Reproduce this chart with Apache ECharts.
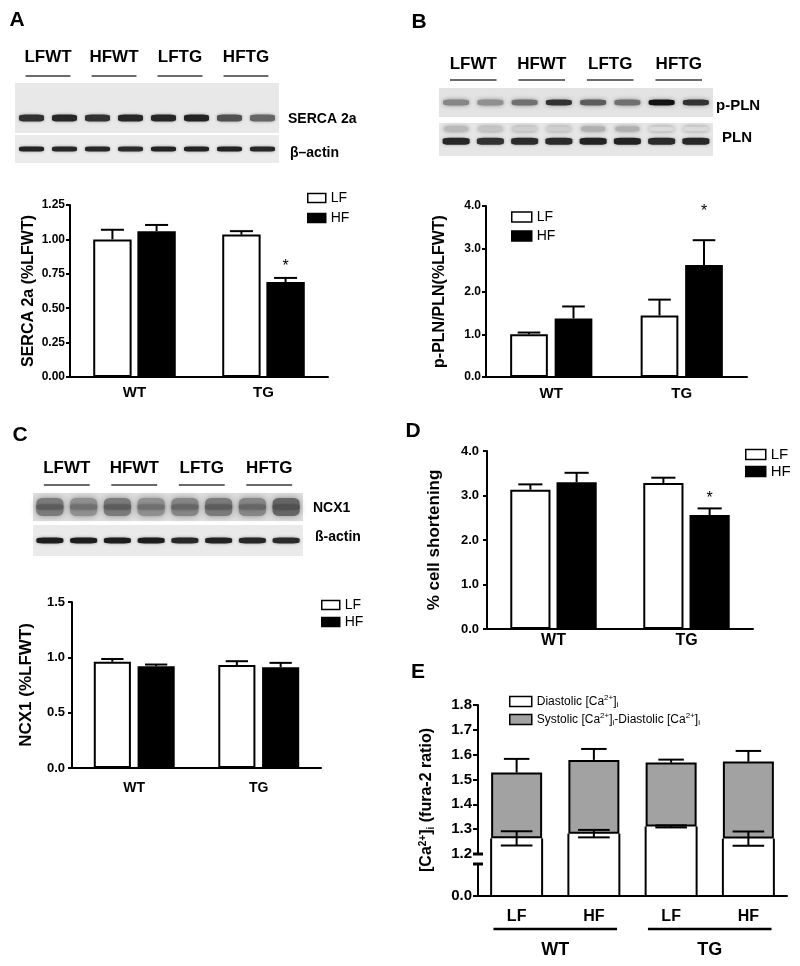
<!DOCTYPE html>
<html>
<head>
<meta charset="utf-8">
<script src="https://cdn.jsdelivr.net/npm/echarts@6.0.0/dist/echarts.min.js"></script>
<style>
html, body { margin: 0; padding: 0; background: #fff; }
#chart { width: 800px; height: 966px; }
</style>
</head>
<body>
<div id="chart"></div>
<script>
const FONT = '"Liberation Sans", Arial, Helvetica, sans-serif';

// categories
const groups = ['WT', 'TG'];
const laneGroups = ['LFWT', 'HFWT', 'LFTG', 'HFTG'];
const lanes = ['1', '2', '3', '4', '5', '6', '7', '8'];
const caCats = ['LF', 'HF', 'LF', 'HF'];

// A - SERCA 2a
const sercaLF = [1.00, 1.035];
const sercaLFErr = [0.07, 0.025];
const sercaHF = [1.06, 0.69];
const sercaHFErr = [0.045, 0.03];
const sercaStar = [null, 0.80];

// B - p-PLN/PLN
const plnLF = [1.00, 1.44];
const plnLFErr = [0.04, 0.37];
const plnHF = [1.37, 2.62];
const plnHFErr = [0.28, 0.58];
const plnStar = [null, 3.87];

// C - NCX1
const ncxLF = [0.96, 0.93];
const ncxLFErr = [0.025, 0.035];
const ncxHF = [0.92, 0.91];
const ncxHFErr = [0.015, 0.04];

// D - cell shortening
const shortLF = [3.13, 3.28];
const shortLFErr = [0.12, 0.12];
const shortHF = [3.30, 2.56];
const shortHFErr = [0.21, 0.15];
const shortStar = [null, 2.92];

// E - Ca transients
const diastolic = [1.263, 1.282, 1.311, 1.262];
const diastolicErr = [0.029, 0.015, 0.004, 0.029];
const systolic = [1.528, 1.579, 1.568, 1.572];
const systolicErr = [0.055, 0.044, 0.012, 0.043];

// blot band darkness (0 light .. 1 black)
const sercaBands = [0.85, 0.9, 0.85, 0.9, 0.9, 0.92, 0.7, 0.6];
const sercaActin = [0.92, 0.9, 0.9, 0.88, 0.92, 0.92, 0.92, 0.9];
const pPlnBands = [0.45, 0.4, 0.55, 0.85, 0.65, 0.55, 1.0, 0.85];
const plnBands = [0.9, 0.85, 0.88, 0.88, 0.92, 0.92, 0.88, 0.9];
const plnFaint = [0.2, 0.15, 0.1, 0.1, 0.25, 0.25, 0.05, 0.05];
const ncxHalo = [0.5, 0.4, 0.5, 0.4, 0.45, 0.5, 0.45, 0.6];
const ncxCore = [0.65, 0.55, 0.65, 0.55, 0.6, 0.65, 0.6, 0.7];
const ncxActin = [0.95, 0.95, 0.95, 0.95, 0.9, 0.92, 0.9, 0.88];

const grid = [], xAxis = [], yAxis = [], series = [], legend = [];
const addGrid = g => { grid.push(Object.assign({ outerBoundsMode: 'none', containLabel: false }, g)); return grid.length - 1; };
const addX = a => { xAxis.push(a); return xAxis.length - 1; };
const addY = a => { yAxis.push(a); return yAxis.length - 1; };
const shade = t => { const g = Math.round(228 - t * 210); return 'rgb(' + g + ',' + g + ',' + g + ')'; };
const line = (x1, y1, x2, y2, w) => ({ type: 'line', shape: { x1, y1, x2, y2 }, style: { stroke: '#000', lineWidth: w || 2 } });

const axisBlack = { lineStyle: { color: '#000', width: 2 } };

// error bars (up only) for a grouped bar pair
function errorBars(xi, yi, vals, errs, star, side, p) {
    return {
        type: 'custom', xAxisIndex: xi, yAxisIndex: yi, z: 5, silent: true,
        data: vals.map((v, i) => [i, v + errs[i]]),
        renderItem(params, api) {
            const i = params.dataIndex;
            const band = api.size([1, 0])[0];
            const bw = band * (1 - p.catGap) / (2 + p.barGap);
            const x = api.coord([i, 0])[0] + side * (1 + p.barGap) * bw / 2;
            const y0 = api.coord([i, vals[i]])[1];
            const y1 = api.coord([i, vals[i] + errs[i]])[1];
            const cap = bw * 0.3;
            const kids = [line(x, y0, x, y1), line(x - cap, y1, x + cap, y1)];
            if (star && star[i] != null) {
                const ys = api.coord([i, star[i]])[1];
                kids.push({ type: 'text', style: { text: '*', x: x, y: ys, align: 'center', verticalAlign: 'middle', fontSize: 16, fontFamily: FONT, fill: '#000' } });
            }
            return { type: 'group', children: kids };
        }
    };
}

function barPanel(p) {
    const gi = addGrid(p.box);
    const xi = addX({
        type: 'category', gridIndex: gi, data: groups,
        axisLine: axisBlack, axisTick: { show: false },
        axisLabel: { color: '#000', fontWeight: 'bold', fontSize: p.catSize, margin: p.catMargin, fontFamily: FONT }
    });
    const yi = addY({
        type: 'value', gridIndex: gi, min: 0, max: p.max, interval: p.step,
        splitLine: { show: false },
        axisLine: { show: true, lineStyle: { color: '#000', width: 2 } },
        axisTick: { show: true, length: 4, lineStyle: { color: '#000', width: 2 } },
        axisLabel: { color: '#000', fontWeight: 'bold', fontSize: p.tickSize, margin: p.tickMargin, fontFamily: FONT, formatter: v => v.toFixed(p.dec) },
        name: p.title, nameLocation: 'middle', nameGap: p.nameGap,
        nameTextStyle: { color: '#000', fontWeight: 'bold', fontSize: p.nameSize, fontFamily: FONT }
    });
    const sets = [['LF', p.lf, p.lfErr, null, '#fff', -1], ['HF', p.hf, p.hfErr, p.star, '#000', 1]];
    sets.forEach(([name, vals, errs, star, fill, side]) => {
        series.push({
            type: 'bar', name, xAxisIndex: xi, yAxisIndex: yi, data: vals, silent: true,
            barCategoryGap: (p.catGap * 100) + '%', barGap: (p.barGap * 100) + '%',
            itemStyle: { color: fill, borderColor: '#000', borderWidth: 2 }
        });
        series.push(errorBars(xi, yi, vals, errs, star, side, p));
    });
    legend.push({
        data: ['LF', 'HF'], orient: 'vertical', selectedMode: false,
        left: p.leg.left, top: p.leg.top, itemWidth: p.leg.w, itemHeight: p.leg.h, itemGap: p.leg.gap, icon: 'rect',
        itemStyle: { borderColor: '#000', borderWidth: 1.5 },
        textStyle: { fontSize: p.leg.size, color: '#000', fontFamily: FONT }
    });
}

function blot(b) {
    const gi = addGrid({ left: b.left, top: b.top, width: b.width, height: b.height, show: true, backgroundColor: b.bg, borderWidth: 0 });
    const xi = addX({ type: 'category', gridIndex: gi, data: lanes, show: false });
    const yi = addY({ type: 'value', gridIndex: gi, min: 0, max: 1, show: false });
    b.rows.forEach(r => series.push({
        type: 'scatter', xAxisIndex: xi, yAxisIndex: yi, symbol: 'roundRect', symbolSize: r.size, silent: true,
        data: r.vals.map((v, i) => [i, r.y, v]),
        itemStyle: { color: p => shade(p.value[2]), opacity: 1, shadowBlur: r.blur, shadowColor: 'rgba(40,40,40,0.45)' }
    }));
    if (b.head) {
        const gx = addX({
            type: 'category', gridIndex: gi, data: laneGroups, position: 'top',
            axisLine: { show: false }, axisTick: { show: false },
            axisLabel: { color: '#000', fontWeight: 'bold', fontSize: 17, margin: b.head.margin, fontFamily: FONT }
        });
        series.push({
            type: 'custom', xAxisIndex: gx, yAxisIndex: yi, silent: true,
            data: laneGroups.map((g, i) => [i, 1]),
            renderItem(params, api) {
                const c = api.coord([params.dataIndex, 1]);
                const w = api.size([1, 0])[0] * 0.34;
                const y = c[1] - b.head.line;
                return { type: 'line', shape: { x1: c[0] - w, y1: y, x2: c[0] + w, y2: y }, style: { stroke: '#3a3a3a', lineWidth: 1.3 } };
            }
        });
    }
}

// ---- blots ----
blot({ left: 15, top: 83, width: 264, height: 50, bg: '#e8e8e8', head: { margin: 17, line: 7 },
    rows: [{ vals: sercaBands, y: 0.3, size: [25, 7], blur: 3 }] });
blot({ left: 15, top: 135, width: 264, height: 28, bg: '#ebebeb',
    rows: [{ vals: sercaActin, y: 0.5, size: [25, 5], blur: 3 }] });
blot({ left: 439, top: 88, width: 274, height: 29, bg: '#e3e3e3', head: { margin: 15, line: 8 },
    rows: [{ vals: pPlnBands, y: 0.5, size: [26, 6], blur: 4 }] });
blot({ left: 439, top: 123, width: 274, height: 33, bg: '#e6e6e6',
    rows: [{ vals: plnFaint, y: 0.82, size: [24, 5], blur: 4 }, { vals: plnBands, y: 0.45, size: [27, 7], blur: 3 }] });
blot({ left: 33, top: 493, width: 270, height: 28, bg: '#dedede', head: { margin: 16, line: 8 },
    rows: [{ vals: ncxHalo, y: 0.5, size: [27, 18], blur: 6 }, { vals: ncxCore, y: 0.5, size: [27, 5], blur: 3 }] });
blot({ left: 33, top: 525, width: 270, height: 31, bg: '#eaeaea',
    rows: [{ vals: ncxActin, y: 0.5, size: [27, 6], blur: 3 }] });

// ---- bar panels ----
barPanel({ box: { left: 70, top: 205, width: 258, height: 172 }, max: 1.25, step: 0.25, dec: 2,
    title: 'SERCA 2a (%LFWT)', nameGap: 33, nameSize: 16, tickSize: 12, tickMargin: 5, catSize: 15, catMargin: 8,
    catGap: 0.36, barGap: 0.15, lf: sercaLF, lfErr: sercaLFErr, hf: sercaHF, hfErr: sercaHFErr, star: sercaStar,
    leg: { left: 302, top: 186, w: 18, h: 9, gap: 6, size: 14 } });
barPanel({ box: { left: 486, top: 206, width: 261, height: 171 }, max: 4, step: 1, dec: 1,
    title: 'p-PLN/PLN(%LFWT)', nameGap: 38, nameSize: 16, tickSize: 12, tickMargin: 5, catSize: 15, catMargin: 9,
    catGap: 0.37, barGap: 0.18, lf: plnLF, lfErr: plnLFErr, hf: plnHF, hfErr: plnHFErr, star: plnStar,
    leg: { left: 506, top: 205, w: 20, h: 10, gap: 5, size: 14 } });
barPanel({ box: { left: 72, top: 602, width: 249, height: 166 }, max: 1.5, step: 0.5, dec: 1,
    title: 'NCX1 (%LFWT)', nameGap: 37, nameSize: 17, tickSize: 13, tickMargin: 7, catSize: 14, catMargin: 13,
    catGap: 0.35, barGap: 0.18, lf: ncxLF, lfErr: ncxLFErr, hf: ncxHF, hfErr: ncxHFErr, star: null,
    leg: { left: 316, top: 593, w: 18, h: 9, gap: 3, size: 14 } });
barPanel({ box: { left: 487, top: 451, width: 266, height: 178 }, max: 4, step: 1, dec: 1,
    title: '% cell shortening', nameGap: 44, nameSize: 17, tickSize: 13, tickMargin: 8, catSize: 16, catMargin: 4,
    catGap: 0.35, barGap: 0.15, lf: shortLF, lfErr: shortLFErr, hf: shortHF, hfErr: shortHFErr, star: shortStar,
    leg: { left: 740, top: 442, w: 20, h: 10, gap: 2, size: 15 } });

// ---- E: broken-axis stacked bars ----
const CA_MIN = 1.2;
const CA_GAP = 0.34;
const E = { left: 478, width: 309, upTop: 705, upH: 149, lowTop: 864, lowH: 32 };
(function caPanel() {
    const gu = addGrid({ left: E.left, top: E.upTop, width: E.width, height: E.upH });
    const gl = addGrid({ left: E.left, top: E.lowTop, width: E.width, height: E.lowH });
    const xu = addX({ type: 'category', gridIndex: gu, data: caCats, axisLine: { show: false }, axisTick: { show: false }, axisLabel: { show: false } });
    const yu = addY({
        type: 'value', gridIndex: gu, min: CA_MIN, max: 1.8, interval: 0.1, splitLine: { show: false },
        axisLine: { show: true, lineStyle: { color: '#000', width: 2 } },
        axisTick: { show: true, length: 5, lineStyle: { color: '#000', width: 2 } },
        axisLabel: { color: '#000', fontWeight: 'bold', fontSize: 15, margin: 6, fontFamily: FONT, formatter: v => v.toFixed(1) },
        name: '{b|[Ca}{sup|2+}{b|]}{sub|i}{b| (fura-2 ratio)}', nameLocation: 'middle', nameGap: 42,
        nameTextStyle: {
            padding: [0, 41, 0, 0],
            rich: {
                b: { fontSize: 16, fontWeight: 'bold', fontFamily: FONT, color: '#000', lineHeight: 18 },
                sup: { fontSize: 10, fontWeight: 'bold', fontFamily: FONT, color: '#000', lineHeight: 10, verticalAlign: 'top' },
                sub: { fontSize: 10, fontWeight: 'bold', fontFamily: FONT, color: '#000', lineHeight: 10, verticalAlign: 'bottom' }
            }
        }
    });
    const xl = addX({
        type: 'category', gridIndex: gl, data: caCats, axisLine: axisBlack, axisTick: { show: false },
        axisLabel: { color: '#000', fontWeight: 'bold', fontSize: 16, margin: 13, fontFamily: FONT }
    });
    const xg = addX({
        type: 'category', gridIndex: gl, data: groups, position: 'bottom', offset: 38,
        axisLine: { show: false }, axisTick: { show: false },
        axisLabel: { color: '#000', fontWeight: 'bold', fontSize: 18, margin: 7, fontFamily: FONT }
    });
    const yl = addY({
        type: 'value', gridIndex: gl, min: 0, max: 1, interval: 1, splitLine: { show: false },
        axisLine: { show: true, lineStyle: { color: '#000', width: 2 } },
        axisTick: { show: true, length: 5, lineStyle: { color: '#000', width: 2 } },
        axisLabel: { color: '#000', fontWeight: 'bold', fontSize: 15, margin: 6, fontFamily: FONT, formatter: v => (v === 0 ? '0.0' : '') }
    });

    series.push({
        type: 'bar', name: 'dia', stack: 'ca', xAxisIndex: xu, yAxisIndex: yu, silent: true,
        data: diastolic, barCategoryGap: (CA_GAP * 100) + '%',
        itemStyle: { color: '#fff', borderWidth: 0 }
    });
    series.push({
        type: 'bar', name: 'sys', stack: 'ca', xAxisIndex: xu, yAxisIndex: yu, silent: true,
        data: systolic.map((s, i) => +(s - diastolic[i]).toFixed(3)), barCategoryGap: (CA_GAP * 100) + '%',
        itemStyle: { color: '#a2a2a2', borderColor: '#000', borderWidth: 2 }
    });
    // sides of the white part + error bars
    series.push({
        type: 'custom', xAxisIndex: xu, yAxisIndex: yu, z: 5, silent: true,
        data: systolic.map((s, i) => [i, s + systolicErr[i]]),
        renderItem(params, api) {
            const i = params.dataIndex;
            const bw = api.size([1, 0])[0] * (1 - CA_GAP);
            const b = api.coord([i, CA_MIN]);
            const x = b[0];
            const yd = api.coord([i, diastolic[i]])[1];
            const ys = api.coord([i, systolic[i]])[1];
            const yse = api.coord([i, systolic[i] + systolicErr[i]])[1];
            const ydl = api.coord([i, diastolic[i] - diastolicErr[i]])[1];
            const ydh = api.coord([i, diastolic[i] + diastolicErr[i]])[1];
            const c1 = bw * 0.25, c2 = bw * 0.31;
            return {
                type: 'group', children: [
                    line(x - bw / 2, b[1], x - bw / 2, yd), line(x + bw / 2, b[1], x + bw / 2, yd),
                    line(x, ys, x, yse), line(x - c1, yse, x + c1, yse),
                    line(x, ydl, x, ydh), line(x - c2, ydl, x + c2, ydl), line(x - c2, ydh, x + c2, ydh)
                ]
            };
        }
    });
    // bar sides below the axis break
    series.push({
        type: 'custom', xAxisIndex: xl, yAxisIndex: yl, silent: true,
        data: caCats.map((c, i) => [i, 1]),
        renderItem(params, api) {
            const i = params.dataIndex;
            const bw = api.size([1, 0])[0] * (1 - CA_GAP);
            const b = api.coord([i, 0]);
            const t = api.coord([i, 1])[1] - (E.lowTop - E.upTop - E.upH);
            return { type: 'group', children: [line(b[0] - bw / 2, b[1], b[0] - bw / 2, t), line(b[0] + bw / 2, b[1], b[0] + bw / 2, t)] };
        }
    });
    // group underlines (WT / TG)
    series.push({
        type: 'custom', xAxisIndex: xg, yAxisIndex: yl, silent: true,
        data: groups.map((g, i) => [i, 0]),
        renderItem(params, api) {
            const c = api.coord([params.dataIndex, 0]);
            const w = api.size([1, 0])[0] * 0.40;
            return line(c[0] - w, c[1] + 33, c[0] + w, c[1] + 33, 2.5);
        }
    });
    legend.push({
        data: [
            { name: 'dia', itemStyle: { color: '#fff', borderColor: '#000', borderWidth: 1.5 } },
            { name: 'sys', itemStyle: { color: '#a2a2a2', borderColor: '#000', borderWidth: 1.5 } }
        ],
        orient: 'vertical', selectedMode: false, left: 504, top: 689, itemWidth: 22, itemHeight: 10, itemGap: 3, icon: 'rect',
        formatter: n => (n === 'dia'
            ? '{t|Diastolic [Ca}{sup|2+}{t|]}{sub|i}'
            : '{t|Systolic [Ca}{sup|2+}{t|]}{sub|i}{t|-Diastolic [Ca}{sup|2+}{t|]}{sub|i}'),
        textStyle: {
            rich: {
                t: { fontSize: 12, fontFamily: FONT, color: '#000', lineHeight: 15 },
                sup: { fontSize: 8, fontFamily: FONT, color: '#000', lineHeight: 8, verticalAlign: 'top' },
                sub: { fontSize: 8, fontFamily: FONT, color: '#000', lineHeight: 8, verticalAlign: 'bottom' }
            }
        }
    });
})();

// panel letters, blot labels, axis break marks
const txt = (text, x, y, size, align) => ({
    type: 'text', x, y, silent: true,
    style: { text, fontSize: size, fontWeight: 'bold', fontFamily: FONT, fill: '#000', align: align || 'left', verticalAlign: 'middle' }
});
const brk = y => ({ type: 'line', silent: true, shape: { x1: E.left - 5, y1: y, x2: E.left + 5, y2: y }, style: { stroke: '#000', lineWidth: 3 } });
const graphic = [
    txt('A', 17, 20, 21, 'center'), txt('B', 419, 22, 21, 'center'), txt('C', 20, 435, 21, 'center'),
    txt('D', 413, 431, 21, 'center'), txt('E', 418, 672, 21, 'center'),
    txt('SERCA 2a', 288, 119, 14), txt('\u03b2\u2013actin', 290, 153, 14),
    txt('p-PLN', 716, 106, 15), txt('PLN', 722, 138, 15),
    txt('NCX1', 313, 508, 14), txt('\u00df-actin', 315, 537, 14),
    brk(E.upTop + E.upH), brk(E.lowTop)
];

const chart = echarts.init(document.getElementById('chart'), null, { renderer: 'canvas' });
chart.setOption({
    backgroundColor: '#fff',
    animation: false,
    textStyle: { fontFamily: FONT },
    grid, xAxis, yAxis, series, legend, graphic
});
</script>
</body>
</html>
